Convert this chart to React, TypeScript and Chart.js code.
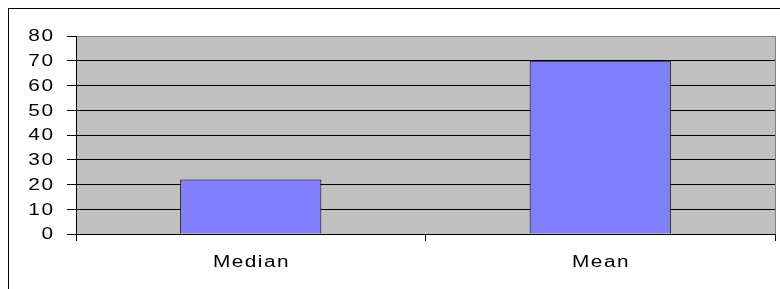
import React, { useEffect, useRef } from "react";
import { Chart, registerables } from "chart.js";

Chart.register(...registerables);

const categories = ["Median", "Mean"];
const values = [22, 70];
const yMin = 0;
const yMax = 80;
const yStep = 10;

const FONT = '16px "Liberation Sans", Arial, Helvetica, sans-serif';
const STRETCH = 1.3;
const SPACING = 1.15;

const plotBackground = {
  id: "plotBackground",
  beforeDraw(chart: any) {
    const { ctx, chartArea } = chart;
    ctx.save();
    ctx.fillStyle = "#C0C0C0";
    ctx.fillRect(chartArea.left, chartArea.top, chartArea.right - chartArea.left, chartArea.bottom - chartArea.top);
    ctx.restore();
  },
  afterDraw(chart: any) {
    const { ctx, chartArea } = chart;
    ctx.save();
    ctx.strokeStyle = "#808080";
    ctx.lineWidth = 1;
    ctx.beginPath();
    ctx.moveTo(chartArea.right + 0.5, chartArea.top);
    ctx.lineTo(chartArea.right + 0.5, chartArea.bottom);
    ctx.stroke();
    ctx.restore();
  },
};

function drawLabel(ctx: any, text: string, x: number, y: number, align: string) {
  ctx.save();
  ctx.translate(x, y);
  ctx.scale(STRETCH, 1);
  ctx.font = FONT;
  (ctx as any).letterSpacing = SPACING + "px";
  ctx.textAlign = align;
  ctx.textBaseline = "middle";
  // compensate for trailing letter spacing
  const shift = align === "right" ? SPACING : align === "center" ? SPACING / 2 : 0;
  ctx.fillText(text, shift, 0);
  ctx.restore();
}

const stretchedLabels = {
  id: "stretchedLabels",
  afterDraw(chart: any) {
    const ctx = chart.ctx;
    const ys = chart.scales.y;
    const xs = chart.scales.x;
    ctx.save();
    ctx.fillStyle = "#000";
    ys.ticks.forEach((t: any, i: number) => {
      drawLabel(ctx, String(t.label ?? t.value), ys.right - 23, ys.getPixelForTick(i) + 1, "right");
    });
    xs.ticks.forEach((_t: any, i: number) => {
      drawLabel(ctx, String(categories[i]), xs.getPixelForTick(i), xs.top + 29, "center");
    });
    ctx.restore();
  },
};

export default function App() {
  const ref = useRef<HTMLCanvasElement | null>(null);

  useEffect(() => {
    if (!ref.current) return;
    const chart = new Chart(ref.current, {
      type: "bar",
      data: {
        labels: categories,
        datasets: [
          {
            data: values,
            backgroundColor: "#8080FF",
            borderColor: "#000000",
            borderWidth: 1,
            barPercentage: 0.404,
            categoryPercentage: 1,
          },
        ],
      },
      plugins: [plotBackground, stretchedLabels],
      options: {
        responsive: false,
        animation: false,
        devicePixelRatio: 1,
        layout: { padding: { left: 0, top: 36, right: 5, bottom: 0 } },
        plugins: { legend: { display: false }, tooltip: { enabled: false } },
        scales: {
          x: {
            type: "category",
            offset: true,
            grid: {
              display: true,
              offset: true,
              drawOnChartArea: false,
              drawTicks: true,
              tickLength: 7,
              tickColor: "#000",
              color: "#000",
            },
            border: { display: true, color: "#000", width: 1 },
            ticks: { display: false },
            afterFit: (scale: any) => {
              scale.height = 55;
            },
          },
          y: {
            min: yMin,
            max: yMax,
            ticks: { display: false, stepSize: yStep },
            grid: {
              display: true,
              drawTicks: true,
              tickLength: 9,
              tickColor: "#000",
              color: (c: any) => (c.tick && c.tick.value === yMax ? "#808080" : "#000"),
              lineWidth: 1,
            },
            border: { display: true, color: "#000", width: 1 },
            afterFit: (scale: any) => {
              scale.width = 76;
            },
          },
        },
      },
    });
    return () => chart.destroy();
  }, []);

  return (
    <>
      <div
        style={{
          position: "fixed",
          left: 8,
          top: 8,
          width: 800,
          height: 320,
          borderTop: "1px solid #000",
          borderLeft: "1px solid #000",
          background: "#fff",
        }}
      />
      <canvas
        ref={ref}
        width={780}
        height={289}
        style={{ position: "fixed", left: 0, top: 0, width: 780, height: 289 }}
      />
    </>
  );
}
